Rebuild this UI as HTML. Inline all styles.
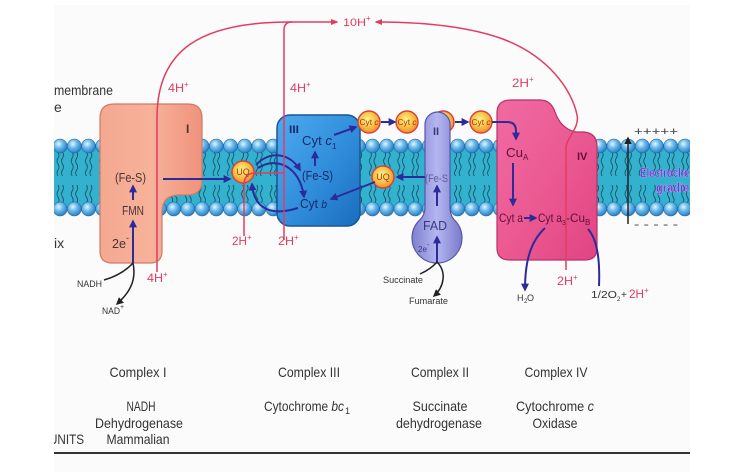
<!DOCTYPE html>
<html><head><meta charset="utf-8"><style>html,body{margin:0;padding:0;background:#fff;}svg{display:block}</style></head>
<body>
<svg width="738" height="472" viewBox="0 0 738 472" xmlns="http://www.w3.org/2000/svg" font-family="Liberation Sans, Arial, sans-serif">
<defs>
 <radialGradient id="head" cx="0.4" cy="0.35" r="0.65">
  <stop offset="0" stop-color="#e6f6ff"/><stop offset="0.45" stop-color="#6cbcec"/><stop offset="1" stop-color="#2a7ec2"/>
 </radialGradient>
 <radialGradient id="uq" cx="0.45" cy="0.4" r="0.6">
  <stop offset="0" stop-color="#fff590"/><stop offset="0.55" stop-color="#f8c445"/><stop offset="1" stop-color="#ef8e30"/>
 </radialGradient>
 <linearGradient id="c1" x1="0" y1="0" x2="1" y2="0">
  <stop offset="0" stop-color="#f4a890"/><stop offset="0.5" stop-color="#f7b29a"/><stop offset="1" stop-color="#f0927c"/>
 </linearGradient>
 <linearGradient id="c3" x1="0" y1="0" x2="1" y2="1">
  <stop offset="0" stop-color="#4daaf0"/><stop offset="0.6" stop-color="#2d8ad8"/><stop offset="1" stop-color="#1a6cbc"/>
 </linearGradient>
 <linearGradient id="c2" x1="0" y1="0" x2="1" y2="0">
  <stop offset="0" stop-color="#7f80d0"/><stop offset="0.5" stop-color="#b4b6f0"/><stop offset="1" stop-color="#7a7acb"/>
 </linearGradient>
 <linearGradient id="c4" x1="0" y1="0" x2="1" y2="1">
  <stop offset="0" stop-color="#f06aa2"/><stop offset="0.5" stop-color="#ec5a92"/><stop offset="1" stop-color="#e04482"/>
 </linearGradient>
 <pattern id="lip" x="53" y="0" width="14.2" height="472" patternUnits="userSpaceOnUse">
  <rect x="0" y="146" width="14.2" height="63" fill="#33b2cf"/>
  <path d="M5,152 q2,3 0,6 q-2,3 0,6 q2,3 0,6 q-2,3 0,6" fill="none" stroke="#16384a" stroke-width="0.7"/>
  <path d="M9.5,152 q2,3 0,6 q-2,3 0,6 q2,3 0,6 q-2,3 0,6" fill="none" stroke="#16384a" stroke-width="0.7"/>
  <path d="M5,203 q2,-3 0,-6 q-2,-3 0,-6 q2,-3 0,-6" fill="none" stroke="#16384a" stroke-width="0.7"/>
  <path d="M9.5,203 q2,-3 0,-6 q-2,-3 0,-6 q2,-3 0,-6" fill="none" stroke="#16384a" stroke-width="0.7"/>
  <circle cx="7.1" cy="146" r="7" fill="url(#head)" stroke="#1e64a0" stroke-width="0.6"/>
  <circle cx="7.1" cy="209" r="7" fill="url(#head)" stroke="#1e64a0" stroke-width="0.6"/>
 </pattern>
 <marker id="ab" viewBox="0 0 10 10" refX="8" refY="5" markerWidth="4" markerHeight="4" orient="auto"><path d="M0,0 L10,5 L0,10 z" fill="#2b2b9c"/></marker>
 <marker id="ar" viewBox="0 0 10 10" refX="8" refY="5" markerWidth="5" markerHeight="5" orient="auto"><path d="M0,1 L10,5 L0,9 z" fill="#e23c62"/></marker>
 <marker id="ak" viewBox="0 0 10 10" refX="8" refY="5" markerWidth="5" markerHeight="5" orient="auto"><path d="M0,0 L10,5 L0,10 z" fill="#222"/></marker>
</defs>

<rect x="54" y="5" width="636" height="467" fill="#fbfbfb"/>

<!-- membrane -->
<rect x="54" y="138" width="636" height="80" fill="url(#lip)"/>

<!-- Complex I -->
<path d="M114,104 H188 Q202,104 202,118 V181 Q202,194 189,195 H178 Q162,196 162,212 V251 Q162,263 150,263 H112 Q100,263 100,251 V118 Q100,104 114,104 Z" fill="url(#c1)" stroke="#cf7a66" stroke-width="1.2"/>
<!-- Complex III -->
<rect x="277" y="115" width="83" height="111" rx="13" fill="url(#c3)" stroke="#1a5596" stroke-width="1.5"/>
<!-- Complex IV -->
<path d="M511,100 H540 Q551,100 555,112 Q561,129 576,132 H584 Q597,133 597,147 V248 Q597,260 585,260 H510 Q497,260 497,248 V113 Q497,100 511,100 Z" fill="url(#c4)" stroke="#b83068" stroke-width="1.2"/>

<!-- Cyt c circles -->
<g stroke="#d8403c" stroke-width="1.4" fill="url(#uq)">
 <circle cx="369" cy="122" r="11"/>
 <circle cx="407" cy="122" r="11"/>
 <circle cx="443" cy="122" r="11"/>
</g>

<!-- Complex II -->
<path d="M425,124.5 A12.5,12.5 0 0 1 450,124.5 V207 Q450,215 454,219.7 A25,25 0 1 1 420,219.7 Q425,215 425,207 Z" fill="url(#c2)" stroke="#5656a8" stroke-width="1.2"/>

<g stroke="#d8403c" stroke-width="1.4" fill="url(#uq)">
 <circle cx="481" cy="122" r="11"/>
 <circle cx="243" cy="172" r="11"/>
 <circle cx="383" cy="177" r="11"/>
</g>
<g font-size="8" fill="#a8341c" text-anchor="middle">
 <text x="369" y="125" textLength="19" lengthAdjust="spacingAndGlyphs">Cyt <tspan font-style="italic">c</tspan></text>
 <text x="407" y="125" textLength="19" lengthAdjust="spacingAndGlyphs">Cyt <tspan font-style="italic">c</tspan></text>
 <text x="481" y="125" textLength="19" lengthAdjust="spacingAndGlyphs">Cyt <tspan font-style="italic">c</tspan></text>
 <text x="243" y="175" font-size="9">UQ</text>
 <text x="383" y="180" font-size="9">UQ</text>
</g>

<!-- Complex I labels -->
<g fill="#4a3434">
 <text x="186" y="133" font-size="12" font-weight="bold">I</text>
 <text x="115" y="182" font-size="13" textLength="31" lengthAdjust="spacingAndGlyphs">(Fe-S)</text>
 <text x="122" y="215" font-size="13" textLength="22" lengthAdjust="spacingAndGlyphs">FMN</text>
 <text x="112" y="248" font-size="13" textLength="14" lengthAdjust="spacingAndGlyphs">2e</text>
 <text x="126" y="241" font-size="9">-</text>
</g>
<!-- Complex III labels -->
<g fill="#16286a">
 <text x="289" y="133" font-size="11" font-weight="bold" textLength="10" lengthAdjust="spacingAndGlyphs">III</text>
 <text x="302" y="145" font-size="13" textLength="30" lengthAdjust="spacingAndGlyphs">Cyt <tspan font-style="italic">c</tspan></text>
 <text x="332" y="149" font-size="8">1</text>
 <text x="302" y="180" font-size="13" textLength="31" lengthAdjust="spacingAndGlyphs">(Fe-S)</text>
 <text x="300" y="208" font-size="13" textLength="27" lengthAdjust="spacingAndGlyphs">Cyt <tspan font-style="italic" font-size="11">b</tspan></text>
</g>
<!-- Complex II labels -->
<g fill="#3a3a7e">
 <text x="433" y="135" font-size="11" font-weight="bold">II</text>
 <text x="425" y="182" font-size="11" fill="#5c5c96" textLength="23" lengthAdjust="spacingAndGlyphs">(Fe-S</text>
 <text x="423" y="230" font-size="13" textLength="24" lengthAdjust="spacingAndGlyphs">FAD</text>
 <text x="418" y="252" font-size="8">2e</text>
 <text x="427" y="247" font-size="7">-</text>
</g>
<!-- Complex IV labels -->
<g fill="#5e1038">
 <text x="577" y="160" font-size="11" font-weight="bold">IV</text>
 <text x="506" y="157" font-size="13" textLength="17" lengthAdjust="spacingAndGlyphs">Cu</text>
 <text x="523" y="160" font-size="8">A</text>
 <text x="499" y="222" font-size="12" textLength="24" lengthAdjust="spacingAndGlyphs">Cyt a</text>
 <text x="538" y="222" font-size="12" textLength="24" lengthAdjust="spacingAndGlyphs">Cyt a</text>
 <text x="562" y="225" font-size="7">3</text>
 <text x="566" y="222" font-size="12">-</text>
 <text x="570" y="222" font-size="12" textLength="15" lengthAdjust="spacingAndGlyphs">Cu</text>
 <text x="585" y="225" font-size="8">B</text>
</g>

<!-- blue arrows -->
<g fill="none" stroke="#2b2b9c" stroke-width="2" marker-end="url(#ab)">
 <path d="M133,263 V221"/>
 <path d="M133,200 V186"/>
 <path d="M163,179 H230"/>
 <path d="M256,165 C270,150 290,153 300,170"/>
 <path d="M258,168 C276,156 300,166 304,197"/>
 <path d="M298,208 C272,216 254,210 252,184"/>
 <path d="M315,166 V152"/>
 <path d="M334,135 L356,127"/>
 <path d="M375,182 L331,199"/>
 <path d="M381,122 H395"/>
 <path d="M455,122 H468"/>
 <path d="M425,177 H397"/>
 <path d="M437,206 V186"/>
 <path d="M437,262 V237"/>
 <path d="M492,122 H507 Q516,122 516,131 V139"/>
 <path d="M513,163 V205"/>
 <path d="M524,218 H536"/>
 <path d="M545,228 C530,242 525,262 525,290"/>
</g>
<path d="M599,286 C600,262 598,240 588,229" fill="none" stroke="#2b2b9c" stroke-width="2"/>

<!-- black curves -->
<g fill="none" stroke="#222" stroke-width="1.5">
 <path d="M104,280 Q122,275 133,263"/>
 <path d="M133,263 C137,282 128,294 117,304" marker-end="url(#ak)"/>
 <path d="M420,274 Q431,269 437,262"/>
 <path d="M437,262 C447,272 444,287 434,296" marker-end="url(#ak)"/>
 <path d="M628,224 V138" marker-end="url(#ak)"/>
</g>

<!-- red proton lines -->
<g fill="none" stroke="#e23c62" stroke-width="1.5">
 <path d="M157,272 V118 C157,50 200,22 290,22 H337" marker-end="url(#ar)"/>
 <path d="M284,240 V30 Q284,22 292,22"/>
 <path d="M284,173 H256 Q244,173 244,185 V236"/>
 <path d="M566,270 V148 C566,138 580,128 577,115 C572,90 548,55 500,38 C465,26 420,22 376,22" marker-end="url(#ar)"/>
</g>

<!-- red labels -->
<g fill="#e23c62" font-size="12">
 <text x="343" y="26" font-size="11" textLength="23" lengthAdjust="spacingAndGlyphs">10H</text>
 <text x="366" y="21" font-size="8">+</text>
 <text x="168" y="92" textLength="16" lengthAdjust="spacingAndGlyphs">4H</text><text x="184" y="87" font-size="8">+</text>
 <text x="290" y="92" textLength="16" lengthAdjust="spacingAndGlyphs">4H</text><text x="306" y="87" font-size="8">+</text>
 <text x="512" y="87" textLength="17" lengthAdjust="spacingAndGlyphs">2H</text><text x="529" y="82" font-size="8">+</text>
 <text x="232" y="245" textLength="15" lengthAdjust="spacingAndGlyphs">2H</text><text x="247" y="240" font-size="8">+</text>
 <text x="278" y="245" textLength="16" lengthAdjust="spacingAndGlyphs">2H</text><text x="294" y="240" font-size="8">+</text>
 <text x="147" y="282" textLength="16" lengthAdjust="spacingAndGlyphs">4H</text><text x="163" y="277" font-size="8">+</text>
 <text x="557" y="285" textLength="16" lengthAdjust="spacingAndGlyphs">2H</text><text x="573" y="280" font-size="8">+</text>
 <text x="629" y="298" textLength="15" lengthAdjust="spacingAndGlyphs">2H</text><text x="644" y="293" font-size="8">+</text>
</g>

<!-- small black labels -->
<g fill="#333" font-size="9">
 <text x="77" y="287" textLength="25" lengthAdjust="spacingAndGlyphs">NADH</text>
 <text x="102" y="314" textLength="18" lengthAdjust="spacingAndGlyphs">NAD</text><text x="120" y="309" font-size="7">+</text>
 <text x="383" y="283" textLength="40" lengthAdjust="spacingAndGlyphs">Succinate</text>
 <text x="409" y="304" textLength="39" lengthAdjust="spacingAndGlyphs">Fumarate</text>
 <text x="517" y="301">H</text><text x="524" y="303" font-size="6">2</text><text x="527" y="301">O</text>
 <text x="591" y="298" font-size="10" textLength="26" lengthAdjust="spacingAndGlyphs">1/2O</text><text x="617" y="301" font-size="6">2</text>
 <text x="621" y="298" font-size="10">+</text>
</g>

<!-- electrochemical -->
<g fill="#444" font-size="11">
 <text x="634" y="135" textLength="44" lengthAdjust="spacingAndGlyphs">+++++</text>
 <text x="634" y="228" font-size="12" textLength="44" lengthAdjust="spacingAndGlyphs">- - - - -</text>
</g>
<g fill="#7a2ed4" stroke="#d8c8ff" stroke-width="0.3" font-size="13" font-weight="bold">
 <text x="640" y="177" textLength="58" lengthAdjust="spacingAndGlyphs">Electrochem</text>
 <text x="656" y="192" textLength="40" lengthAdjust="spacingAndGlyphs">gradien</text>
</g>

<!-- left labels -->
<g fill="#333" font-size="14">
 <text x="54" y="95" textLength="59" lengthAdjust="spacingAndGlyphs">membrane</text>
 <text x="54" y="112">e</text>
 <text x="54" y="248">ix</text>
 <text x="49" y="444" textLength="35" lengthAdjust="spacingAndGlyphs">UNITS</text>
</g>

<!-- bottom labels -->
<g fill="#333" font-size="14" text-anchor="middle">
 <text x="138" y="377" textLength="57" lengthAdjust="spacingAndGlyphs">Complex I</text>
 <text x="309" y="377" textLength="62" lengthAdjust="spacingAndGlyphs">Complex III</text>
 <text x="440" y="377" textLength="58" lengthAdjust="spacingAndGlyphs">Complex II</text>
 <text x="556" y="377" textLength="63" lengthAdjust="spacingAndGlyphs">Complex IV</text>
 <text x="141" y="411" textLength="29" lengthAdjust="spacingAndGlyphs">NADH</text>
 <text x="139" y="428" textLength="88" lengthAdjust="spacingAndGlyphs">Dehydrogenase</text>
 <text x="138" y="444" textLength="63" lengthAdjust="spacingAndGlyphs">Mammalian</text>
 <text x="304" y="411" textLength="80" lengthAdjust="spacingAndGlyphs">Cytochrome <tspan font-style="italic">bc</tspan></text>
 <text x="440" y="411" textLength="55" lengthAdjust="spacingAndGlyphs">Succinate</text>
 <text x="439" y="428" textLength="86" lengthAdjust="spacingAndGlyphs">dehydrogenase</text>
 <text x="555" y="411" textLength="78" lengthAdjust="spacingAndGlyphs">Cytochrome <tspan font-style="italic">c</tspan></text>
 <text x="555" y="428" textLength="45" lengthAdjust="spacingAndGlyphs">Oxidase</text>
</g>
<text x="345" y="414" font-size="9" fill="#333">1</text>

<line x1="54" y1="453" x2="690" y2="453" stroke="#333" stroke-width="2"/>

<!-- clip edges -->
<rect x="0" y="0" width="54" height="472" fill="#fff"/>
<rect x="690" y="0" width="48" height="472" fill="#fff"/>
</svg>
</body></html>
